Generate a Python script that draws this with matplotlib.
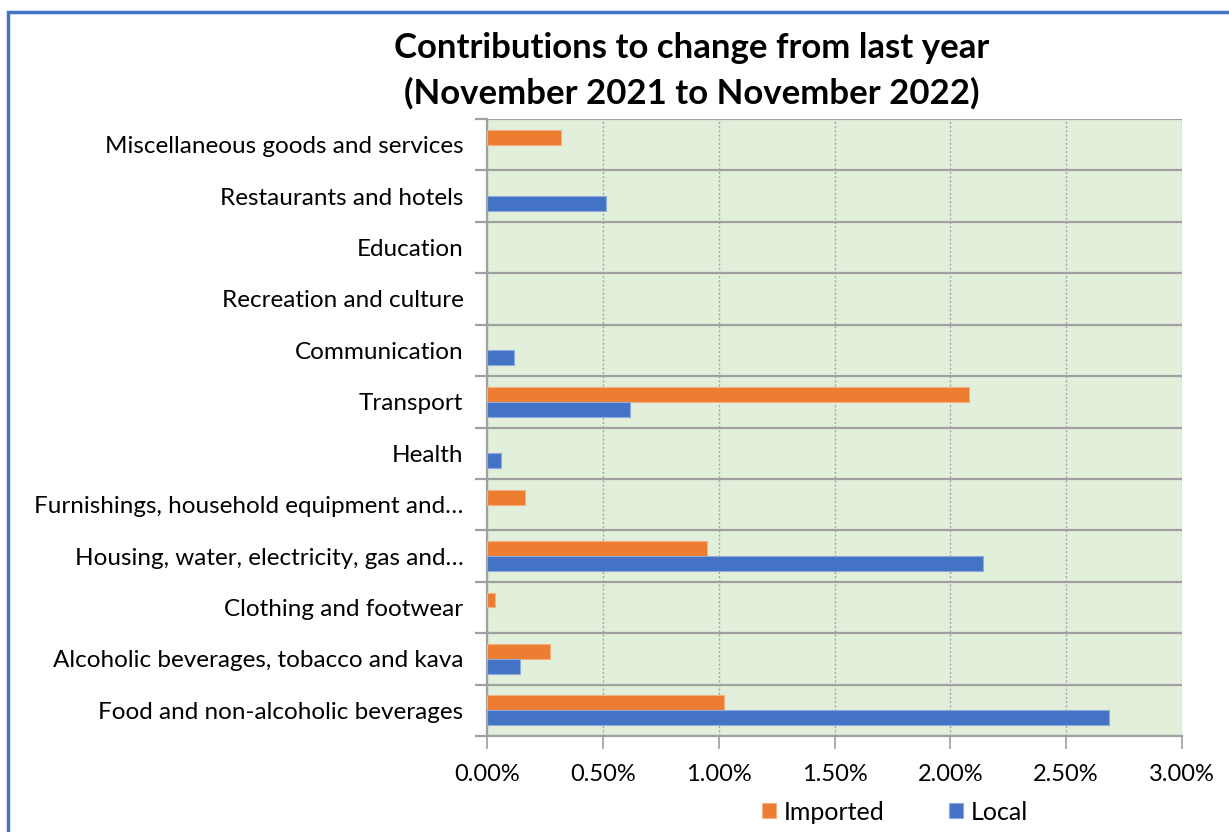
import matplotlib
matplotlib.use("Agg")
import matplotlib.pyplot as plt
from matplotlib.patches import Rectangle
from matplotlib.ticker import FuncFormatter, FixedLocator
import numpy as np

plt.rcParams['font.family'] = ['Lato', 'DejaVu Sans']

categories = [
    "Food and non-alcoholic beverages",
    "Alcoholic beverages, tobacco and kava",
    "Clothing and footwear",
    "Housing, water, electricity, gas and\u2026",
    "Furnishings, household equipment and\u2026",
    "Health",
    "Transport",
    "Communication",
    "Recreation and culture",
    "Education",
    "Restaurants and hotels",
    "Miscellaneous goods and services",
]
imported = [1.023, 0.272, 0.035, 0.951, 0.163, 0.0, 2.082, 0.0, 0.0, 0.0, 0.0, 0.321]
local = [2.687, 0.144, 0.0, 2.142, 0.0, 0.060, 0.618, 0.117, 0.0, 0.0, 0.512, 0.0]
x_ticks = [0.0, 0.5, 1.0, 1.5, 2.0, 2.5, 3.0]

ORANGE = "#ED7D31"
BLUE = "#4472C4"
BG = "#E2EFDA"

W, H = 1229, 832
fig = plt.figure(figsize=(W / 100, H / 100), dpi=100)
ax = fig.add_axes([487 / W, 1 - 736 / H, (1182 - 487) / W, (736 - 119) / H])
ax.set_facecolor(BG)

y = np.arange(len(categories))
bh = 0.29
imp_lw = [0.8 if v > 0 else 0 for v in imported]
loc_lw = [0.8 if v > 0 else 0 for v in local]
ax.barh(y + bh / 2, imported, height=bh, color=ORANGE, edgecolor="#F4B183",
        linewidth=imp_lw, label="Imported", zorder=3)
ax.barh(y - bh / 2, local, height=bh, color=BLUE, edgecolor="#8FAADC",
        linewidth=loc_lw, label="Local", zorder=3)

ax.set_xlim(0, 3.0)
ax.set_ylim(-0.5, len(categories) - 0.5)

ax.xaxis.set_major_locator(FixedLocator(x_ticks))
ax.xaxis.set_major_formatter(FuncFormatter(lambda v, p: f"{v:.2f}%"))
ax.grid(axis="x", color="#A6A6A6", linestyle=(0, (1.5, 1.5)), linewidth=1.0, zorder=1)

# category separators
for b in np.arange(-0.5, len(categories), 1.0):
    ax.axhline(b, color="#A0A0A0", linewidth=1.6, zorder=2)

ax.set_yticks(y)
ax.set_yticklabels(categories)
ax.yaxis.set_minor_locator(FixedLocator(np.arange(-0.5, len(categories), 1.0)))
ax.tick_params(axis="y", which="major", length=0, pad=17, labelsize=17.5, labelcolor="#000000")
ax.tick_params(axis="y", which="minor", length=9, width=1.6, color="#A0A0A0")
ax.tick_params(axis="x", which="major", length=9, width=1.2, color="#A0A0A0",
               labelsize=17, pad=11, labelcolor="#000000")

for s in ["top", "right"]:
    ax.spines[s].set_visible(False)
ax.spines["bottom"].set_color("#A0A0A0")
ax.spines["bottom"].set_linewidth(1.6)
ax.spines["left"].set_color("#A0A0A0")
ax.spines["left"].set_linewidth(1.6)

fig.text(0.563, 1 - 48 / H, "Contributions to change from last year", ha="center", va="center",
         fontsize=25, fontweight="bold")
fig.text(0.563, 1 - 93 / H, "(November 2021 to November 2022)", ha="center", va="center",
         fontsize=25, fontweight="bold")

leg = fig.legend(loc="center", bbox_to_anchor=(895 / W, 1 - 812 / H), ncol=2, frameon=False,
                 fontsize=18, handlelength=0.55, handleheight=0.55, columnspacing=2.6,
                 handletextpad=0.3)

# chart border
fig.patches.append(Rectangle((8 / W, -0.1), 1.2, 1 - 12 / H + 0.1, transform=fig.transFigure,
                             fill=False, edgecolor=BLUE, linewidth=2.5))

fig.savefig("out.png", dpi=100, facecolor="white")
